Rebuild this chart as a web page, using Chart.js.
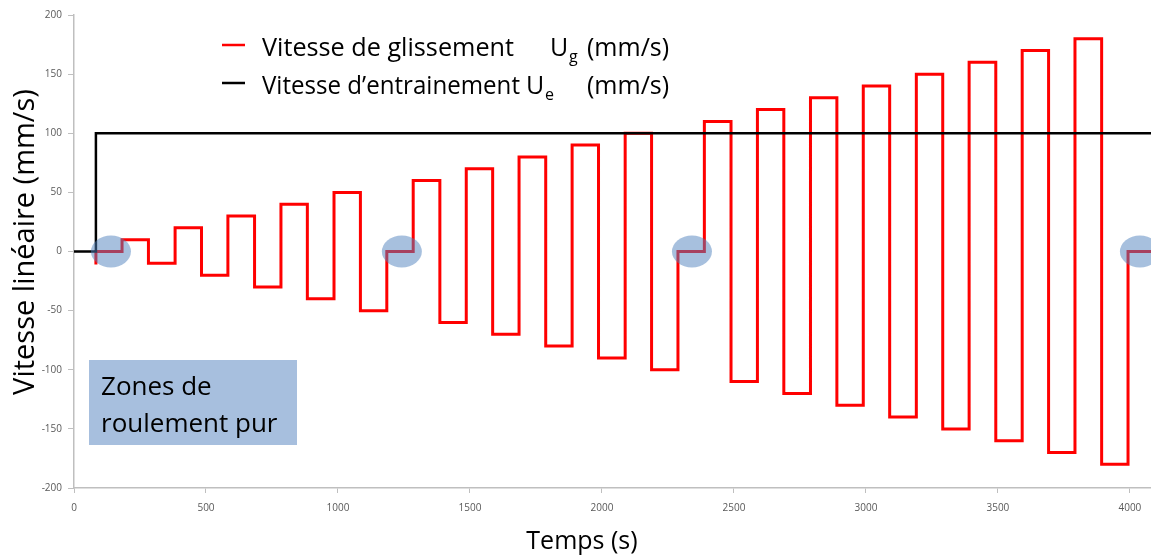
<!DOCTYPE html>
<html>
<head>
<meta charset="utf-8">
<script src="https://cdn.jsdelivr.net/npm/chart.js@4/dist/chart.umd.min.js"></script>
<style>
    html, body { margin: 0; padding: 0; background: #ffffff; }
    #wrap { position: relative; width: 1151px; height: 556px; }
</style>
</head>
<body>
<div id="wrap"><canvas id="speedChart" width="1151" height="556"></canvas></div>
<script>
// Vitesse de glissement Ug : instants de changement (s) et paliers (mm/s)
const slipTimes = [83, 83, 182, 282, 383, 483, 583, 684, 784, 884, 985,
    1085, 1185, 1285, 1386, 1486, 1586, 1686, 1787, 1887, 1987,
    2088, 2188, 2288, 2388, 2489, 2589, 2689, 2790, 2890, 2990,
    3090, 3191, 3291, 3391, 3492, 3592, 3692, 3792, 3893, 3993, 4080];
const slipSpeeds = [-11, 0, 10, -10, 20, -20, 30, -30, 40, -40, 50,
    -50, 0, 60, -60, 70, -70, 80, -80, 90, -90,
    100, -100, 0, 110, -110, 120, -120, 130, -130, 140,
    -140, 150, -150, 160, -160, 170, -170, 180, -180, 0, 0];

// Vitesse d'entrainement Ue
const driveTimes = [0, 83, 4080];
const driveSpeeds = [0, 100, 100];

// zones de roulement pur (centres des ellipses)
const pureRollTimes = [140, 1242, 2341, 4038];
const pureRollSpeeds = [0, 0, 0, 0];

const xTicks = [0, 500, 1000, 1500, 2000, 2500, 3000, 3500, 4000];
const yTicks = [-200, -150, -100, -50, 0, 50, 100, 150, 200];

const FONT = "'Open Sans', 'DejaVu Sans', sans-serif";

function points(xs, ys) {
    return xs.map((x, i) => ({x: x, y: ys[i]}));
}

// draws text squeezed/stretched to a given width
function fitText(ctx, text, x, y, width) {
    const natural = ctx.measureText(text).width;
    ctx.save();
    ctx.translate(x, y);
    ctx.scale(width / natural, 1);
    ctx.fillText(text, 0, 0);
    ctx.restore();
}

const annotations = {
    id: "annotations",
    afterDatasetsDraw(chart) {
        const ctx = chart.ctx;
        const xs = chart.scales.x;
        const ys = chart.scales.y;
        ctx.save();
        ctx.fillStyle = "rgba(79, 129, 189, 0.5)";
        pureRollTimes.forEach((t, i) => {
            ctx.beginPath();
            ctx.ellipse(xs.getPixelForValue(t), ys.getPixelForValue(pureRollSpeeds[i]), 20, 16, 0, 0, Math.PI * 2);
            ctx.fill();
        });
        ctx.restore();
    },
    afterDraw(chart) {
        const ctx = chart.ctx;
        ctx.save();
        ctx.fillStyle = "#000000";
        ctx.textBaseline = "alphabetic";

        // legend
        ctx.lineWidth = 2.5;
        ctx.strokeStyle = "#ff0000";
        ctx.beginPath(); ctx.moveTo(222, 45); ctx.lineTo(245, 45); ctx.stroke();
        ctx.strokeStyle = "#000000";
        ctx.beginPath(); ctx.moveTo(222, 83); ctx.lineTo(245, 83); ctx.stroke();

        ctx.textAlign = "left";
        ctx.font = `25px ${FONT}`;
        fitText(ctx, "Vitesse de glissement", 262, 56, 252);
        ctx.fillText("U", 550, 56);
        ctx.fillText("(mm/s)", 587, 56);
        fitText(ctx, "Vitesse d\u2019entrainement", 262, 94, 258);
        ctx.fillText("U", 526, 94);
        ctx.fillText("(mm/s)", 587, 94);
        ctx.font = `16px ${FONT}`;
        ctx.fillText("g", 569, 62);
        ctx.fillText("e", 545, 100);

        // text box
        ctx.fillStyle = "#a7bfde";
        ctx.fillRect(89, 360, 208, 85);
        ctx.fillStyle = "#000000";
        ctx.font = `26px ${FONT}`;
        ctx.fillText("Zones de", 101, 395);
        ctx.fillText("roulement pur", 101, 432);

        // axis titles
        ctx.textAlign = "center";
        ctx.font = `25px ${FONT}`;
        ctx.fillText("Temps (s)", 582, 549);
        ctx.translate(34, 242);
        ctx.rotate(-Math.PI / 2);
        ctx.font = `29px ${FONT}`;
        ctx.fillText("Vitesse lin\u00e9aire (mm/s)", 0, 0);
        ctx.restore();
    }
};

const axisColor = "#bfbfbf";
const tickFont = {family: FONT, size: 10};

new Chart(document.getElementById("speedChart").getContext("2d"), {
    type: "scatter",
    data: {
        datasets: [
            {
                label: "Vitesse de glissement Ug (mm/s)",
                data: points(slipTimes, slipSpeeds),
                showLine: true,
                stepped: "before",
                borderColor: "#ff0000",
                borderWidth: 3,
                pointRadius: 0,
                order: 1
            },
            {
                label: "Vitesse d'entrainement Ue (mm/s)",
                data: points(driveTimes, driveSpeeds),
                showLine: true,
                stepped: "before",
                borderColor: "#000000",
                borderWidth: 2.5,
                pointRadius: 0,
                order: 0
            }
        ]
    },
    options: {
        responsive: false,
        animation: false,
        layout: {padding: {top: 15, left: 0, right: 0, bottom: 0}},
        plugins: {legend: {display: false}, tooltip: {enabled: false}},
        scales: {
            x: {
                type: "linear",
                min: 0,
                max: 4080,
                afterFit: (scale) => { scale.height = 68; },
                afterBuildTicks: (scale) => { scale.ticks = xTicks.map((v) => ({value: v})); },
                ticks: {color: "#595959", font: tickFont, padding: 9, maxRotation: 0, callback: (v) => `${v}`},
                grid: {drawOnChartArea: false, drawTicks: true, tickLength: 5, color: axisColor},
                border: {color: axisColor, width: 1.5}
            },
            y: {
                min: -200,
                max: 200,
                afterFit: (scale) => { scale.width = 74; },
                afterBuildTicks: (scale) => { scale.ticks = yTicks.map((v) => ({value: v})); },
                ticks: {color: "#595959", font: tickFont, padding: 6, callback: (v) => `${v}`},
                grid: {drawOnChartArea: false, drawTicks: true, tickLength: 6, color: axisColor},
                border: {color: axisColor, width: 1.5}
            }
        }
    },
    plugins: [annotations]
});
</script>
</body>
</html>
